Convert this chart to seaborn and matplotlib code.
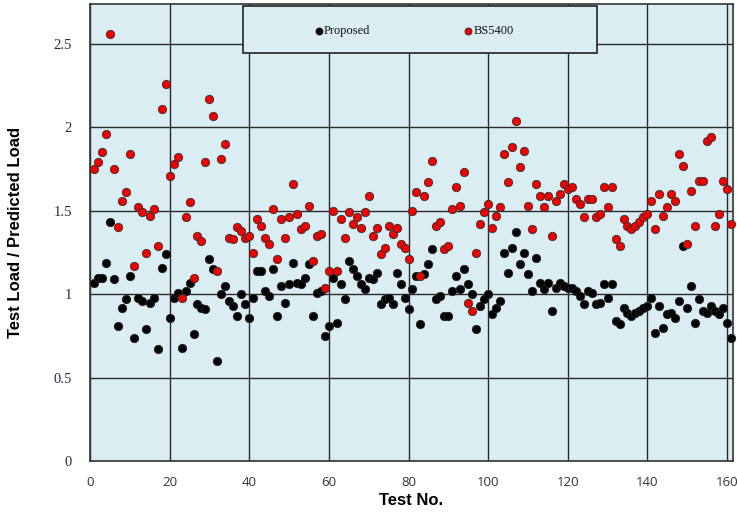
import matplotlib
matplotlib.use("Agg")
import matplotlib.pyplot as plt
import seaborn as sns
import numpy as np
import pandas as pd
from matplotlib.patches import Rectangle
from matplotlib.ticker import MultipleLocator

tests = list(range(1, 162))

proposed = [
    1.07, 1.10, 1.10, 1.19, 1.43, 1.09, 0.81, 0.92, 0.97, 1.11,
    0.74, 0.98, 0.96, 0.79, 0.95, 0.98, 0.67, 1.16, 1.24, 0.86,
    0.98, 1.01, 0.68, 1.02, 1.07, 0.76, 0.94, 0.92, 0.91, 1.21,
    1.15, 0.60, 1.00, 1.05, 0.96, 0.93, 0.87, 1.00, 0.94, 0.86,
    0.98, 1.14, 1.14, 1.02, 0.99, 1.15, 0.87, 1.05, 0.95, 1.06,
    1.19, 1.07, 1.06, 1.10, 1.18, 0.87, 1.01, 1.02, 0.75, 0.81,
    1.10, 0.83, 1.06, 0.97, 1.20, 1.15, 1.11, 1.06, 1.03, 1.10,
    1.09, 1.13, 0.94, 0.97, 0.98, 0.94, 1.13, 1.06, 0.98, 0.91,
    1.03, 1.11, 0.82, 1.12, 1.18, 1.27, 0.97, 0.99, 0.87, 0.87,
    1.02, 1.11, 1.03, 1.15, 1.06, 1.00, 0.79, 0.93, 0.97, 1.00,
    0.88, 0.92, 0.96, 1.25, 1.13, 1.28, 1.375, 1.18, 1.25, 1.12,
    1.02, 1.22, 1.07, 1.03, 1.07, 0.90, 1.04, 1.07, 1.05, 1.04,
    1.04, 1.02, 0.99, 0.94, 1.02, 1.01, 0.94, 0.95, 1.06, 0.98,
    1.06, 0.84, 0.82, 0.92, 0.89, 0.87, 0.89, 0.90, 0.92, 0.93,
    0.98, 0.77, 0.93, 0.80, 0.88, 0.89, 0.86, 0.96, 1.29, 0.92,
    1.05, 0.83, 0.97, 0.90, 0.89, 0.93, 0.90, 0.88, 0.92, 0.83,
    0.735,
]

bs5400 = [
    1.75, 1.79, 1.85, 1.96, 2.56, 1.75, 1.40, 1.56, 1.61, 1.84,
    1.17, 1.52, 1.49, 1.25, 1.47, 1.51, 1.29, 2.11, 2.26, 1.71,
    1.78, 1.82, 0.98, 1.46, 1.55, 1.10, 1.35, 1.32, 1.79, 2.17,
    2.07, 1.14, 1.81, 1.90, 1.34, 1.33, 1.40, 1.38, 1.335, 1.35,
    1.245, 1.45, 1.41, 1.34, 1.30, 1.51, 1.21, 1.45, 1.34, 1.46,
    1.66, 1.48, 1.39, 1.41, 1.53, 1.20, 1.35, 1.36, 1.04, 1.14,
    1.50, 1.14, 1.45, 1.34, 1.49, 1.42, 1.46, 1.395, 1.49, 1.59,
    1.35, 1.395, 1.24, 1.28, 1.41, 1.36, 1.395, 1.30, 1.28, 1.21,
    1.50, 1.61, 1.11, 1.59, 1.67, 1.80, 1.41, 1.43, 1.27, 1.29,
    1.51, 1.64, 1.53, 1.73, 0.95, 0.90, 1.245, 1.42, 1.49, 1.54,
    1.395, 1.47, 1.52, 1.84, 1.67, 1.88, 2.04, 1.76, 1.86, 1.53,
    1.39, 1.66, 1.59, 1.52, 1.59, 1.35, 1.56, 1.60, 1.66, 1.63,
    1.64, 1.57, 1.54, 1.46, 1.57, 1.57, 1.46, 1.48, 1.64, 1.52,
    1.64, 1.33, 1.29, 1.45, 1.41, 1.39, 1.41, 1.43, 1.46, 1.48,
    1.56, 1.39, 1.60, 1.47, 1.52, 1.60, 1.56, 1.84, 1.77, 1.30,
    1.62, 1.41, 1.68, 1.68, 1.92, 1.94, 1.41, 1.48, 1.68, 1.63,
    1.42,
]

x_ticks = [0, 20, 40, 60, 80, 100, 120, 140, 160]
y_ticks = [0, 0.5, 1, 1.5, 2, 2.5]
y_tick_labels = ["0", "0.5", "1", "1.5", "2", "2.5"]

sns.set_style("white")
bg = "#DAEDF2"

fig = plt.figure(figsize=(7.37, 5.16), dpi=100)
ax = fig.add_axes([90 / 737, 55 / 516, 643 / 737, 457 / 516])
ax.set_facecolor(bg)

sns.scatterplot(x=tests, y=proposed, ax=ax, color="black", edgecolor="#222222",
                linewidth=0.6, s=36, label="Proposed", zorder=3, clip_on=False)
sns.scatterplot(x=tests, y=bs5400, ax=ax, color="#EE0000", edgecolor="#333333",
                linewidth=0.6, s=36, label="BS5400", zorder=4, clip_on=False)

ax.set_xlim(0, 161.5)
ax.set_ylim(0, 2.74)

ax.set_xticks(x_ticks)
ax.set_xticklabels([str(t) for t in x_ticks], family="Open Sans", fontsize=9.5, color="#333333")
ax.set_yticks(y_ticks)
ax.set_yticklabels(y_tick_labels, family="Liberation Serif", fontsize=10.5, color="#2a2a45")
ax.xaxis.set_minor_locator(MultipleLocator(4))
ax.yaxis.set_minor_locator(MultipleLocator(0.1))
ax.tick_params(axis="x", which="major", direction="out", length=3, width=1, pad=8, color="#333333")
ax.tick_params(axis="x", which="minor", direction="out", length=2.2, width=1, color="#333333")
ax.tick_params(axis="y", which="major", direction="out", length=4, width=1, pad=9, color="#333333")
ax.tick_params(axis="y", which="minor", direction="out", length=3, width=1, color="#333333")

ax.grid(True, which="major", color="#2a2a2a", linewidth=1.0)
ax.set_axisbelow(True)
for sp in ax.spines.values():
    sp.set_color("#333333")
    sp.set_linewidth(1.2)
    sp.set_visible(True)

ax.set_xlabel("Test No.", family="Liberation Sans", fontsize=12, fontweight="bold",
              labelpad=3, color="black")
ax.set_ylabel("Test Load / Predicted Load", family="Liberation Sans", fontsize=12,
              fontweight="bold", labelpad=22, color="black")

# legend box
box = Rectangle((153 / 643, 408 / 457), 354 / 643, 47 / 457, transform=ax.transAxes,
                facecolor=bg, edgecolor="#222222", linewidth=1.2, zorder=5, clip_on=False)
ax.add_patch(box)
leg = ax.legend(loc="center", bbox_to_anchor=(0.505, 0.941), ncol=2, frameon=False,
                prop={"family": "Liberation Serif", "size": 9},
                handlelength=0.5, handletextpad=0.15, columnspacing=7.6,
                markerscale=0.85)
for t in leg.get_texts():
    t.set_color("#111111")
leg.set_zorder(6)

fig.savefig("out.png", dpi=100, facecolor="white")
